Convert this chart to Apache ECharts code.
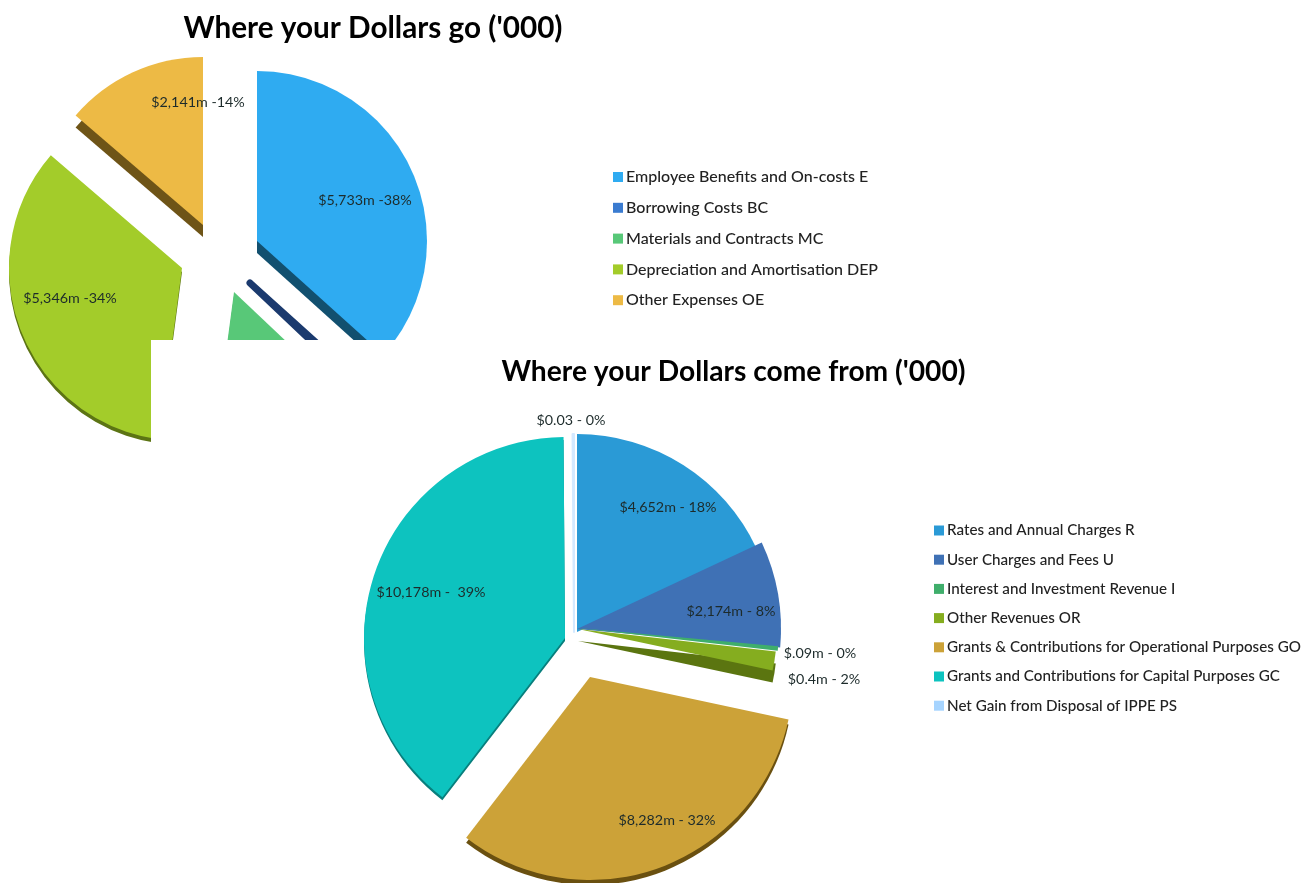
<!DOCTYPE html>
<html>
<head>
<meta charset="utf-8">
<style>
  html, body { margin: 0; padding: 0; background: #fff; }
  #chart { width: 1316px; height: 883px; }
</style>
<script src="https://cdn.jsdelivr.net/npm/echarts@6/dist/echarts.min.js"></script>
</head>
<body>
<div id="chart"></div>
<script>
// amounts in $'000; hidden slices are estimated from the angles
const goNames = ['Employee Benefits and On-costs E', 'Borrowing Costs BC', 'Materials and Contracts MC', 'Depreciation and Amortisation DEP', 'Other Expenses OE']
const goValues = [5733, 60, 2350, 5346, 2141]
const goLabels = ['$5,733m -38%', '', '', '$5,346m -34%', '$2,141m -14%']
const goColors = ['#2fabf1', '#3a7bd0', '#58c878', '#a3cc2a', '#edba45']
const goEdges = ['#12506f', '#1b3a6e', '#2c7a48', '#5c7414', '#6e5417']

const comeNames = ['Rates and Annual Charges R', 'User Charges and Fees U', 'Interest and Investment Revenue I', 'Other Revenues OR', 'Grants & Contributions for Operational Purposes GO', 'Grants and Contributions for Capital Purposes GC', 'Net Gain from Disposal of IPPE PS']
const comeValues = [4652, 2174, 90, 400, 8282, 10178, 30]
const comeLabels = ['$4,652m - 18%', '$2,174m - 8%', '$.09m - 0%', '$0.4m - 2%', '$8,282m - 32%', '$10,178m -  39%', '$0.03 - 0%']
const comeColors = ['#2a9ad6', '#3f71b5', '#3fae6b', '#85ad1f', '#cca238', '#0dc3bf', '#a6d4ff']
const comeEdges = ['#1c6f9c', '#2b5082', '#2c7a48', '#5b7510', '#6a5010', '#087f7d', '#d4e9ff']

// exploded layout, one entry per slice: centre, radius, extrusion depth,
// how much the extrusion pulls in from the rim, outline width, label centre
const goLayout = [
  { c: [257, 241], r: 170, d: 12, s: 12, b: 0, l: [365, 200] },
  { c: [250, 283], r: 170, d: 0, s: 0, b: 7, l: null },
  { c: [234, 292], r: 170, d: 4, s: 0, b: 0, l: null },
  { c: [182, 268], r: 173, d: 4, s: 0, b: 0, l: [70, 298] },
  { c: [203, 225], r: 168, d: 12, s: 0, b: 0, l: [198, 102] }
]
const comeLayout = [
  { c: [577, 632], r: 198, d: 0, s: 0, b: 0, l: [668, 507] },
  { c: [577, 629], r: 204, d: 0, s: 0, b: 0, l: [731, 611] },
  { c: [578, 628], r: 201, d: 0, s: 0, b: 0, l: [820, 653] },
  { c: [578, 629], r: 199, d: 12, s: 0, b: 0, l: [824, 679] },
  { c: [590, 677], r: 203, d: 5, s: 0, b: 0, l: [667, 820] },
  { c: [565, 638], r: 201, d: 3, s: 0, b: 0, l: [431, 592] },
  { c: [574, 632], r: 198, d: 0, s: 0, b: 2, l: [571, 420] }
]

const fontFamily = 'Lato, "Open Sans", sans-serif'

function onePie(z, center, radius, start, item, rest) {
  return {
    type: 'pie',
    z: z,
    silent: true,
    animation: false,
    center: center,
    radius: [0, radius],
    startAngle: start,
    avoidLabelOverlap: false,
    emphasis: { disabled: true },
    labelLine: { show: false },
    label: { show: false },
    data: [item, { name: 'rest', value: rest, itemStyle: { color: 'transparent' } }]
  }
}

// every slice is its own pie so it can sit on its own exploded centre,
// with a darker copy underneath for the 3d edge
function sliceSeries(names, values, labels, colors, edges, layout, z) {
  const total = values.reduce((a, b) => a + b, 0)
  const out = []
  let done = 0
  values.forEach((v, i) => {
    const start = 90 - done / total * 360
    done += v
    const at = layout[i]
    if (at.d > 0) {
      out.push(onePie(z, [at.c[0], at.c[1] + at.d], at.r - at.s, start,
        { name: 'edge', value: v, itemStyle: { color: edges[i] } }, total - v))
    }
    const pie = onePie(z, at.c, at.r, start, {
      name: names[i],
      value: v,
      itemStyle: { color: colors[i], borderWidth: at.b, borderColor: edges[i] },
      label: {
        show: !!labels[i],
        position: 'inside',
        formatter: labels[i],
        color: '#1d2b2b',
        fontFamily: fontFamily,
        fontSize: 14.3
      }
    }, total - v)
    if (at.l) pie.labelLayout = { x: at.l[0], y: at.l[1], align: 'center', verticalAlign: 'middle' }
    out.push(pie)
  })
  return out
}

var myChart = echarts.init(document.getElementById('chart'), null, { renderer: 'canvas' })
myChart.setOption({
  backgroundColor: '#fff',
  animation: false,
  title: [
    { text: "Where your Dollars go ('000)", left: 368, top: 23, textAlign: 'center', textVerticalAlign: 'middle',
      textStyle: { fontFamily: fontFamily, fontSize: 29.7, fontWeight: 'bold', color: '#000' } },
    { text: "Where your Dollars come from ('000)", left: 728.5, top: 367, textAlign: 'center', textVerticalAlign: 'middle',
      textStyle: { fontFamily: fontFamily, fontSize: 28.2, fontWeight: 'bold', color: '#000' } }
  ],
  legend: [
    { data: goNames, orient: 'vertical', left: 608, top: 164, icon: 'rect', itemWidth: 10, itemHeight: 10, itemGap: 14.8, selectedMode: false,
      itemStyle: { borderWidth: 0 },
      textStyle: { fontFamily: fontFamily, fontSize: 16, fontWeight: 500, color: '#222', padding: [0, 0, 0, -2], lineHeight: 16 } },
    { data: comeNames, orient: 'vertical', left: 929, top: 517.5, icon: 'rect', itemWidth: 10, itemHeight: 10, itemGap: 13.2, selectedMode: false,
      itemStyle: { borderWidth: 0 },
      textStyle: { fontFamily: fontFamily, fontSize: 15.2, fontWeight: 500, color: '#222', padding: [0, 0, 0, -2], lineHeight: 16 } }
  ],
  // the lower chart is a pasted panel that covers the bottom of the upper pie
  graphic: [
    { type: 'rect', z: 3, silent: true, shape: { x: 151, y: 340, width: 1165, height: 543 }, style: { fill: '#fff' } }
  ],
  series: [
    ...sliceSeries(goNames, goValues, goLabels, goColors, goEdges, goLayout, 2),
    ...sliceSeries(comeNames, comeValues, comeLabels, comeColors, comeEdges, comeLayout, 4)
  ]
})
</script>
</body>
</html>
